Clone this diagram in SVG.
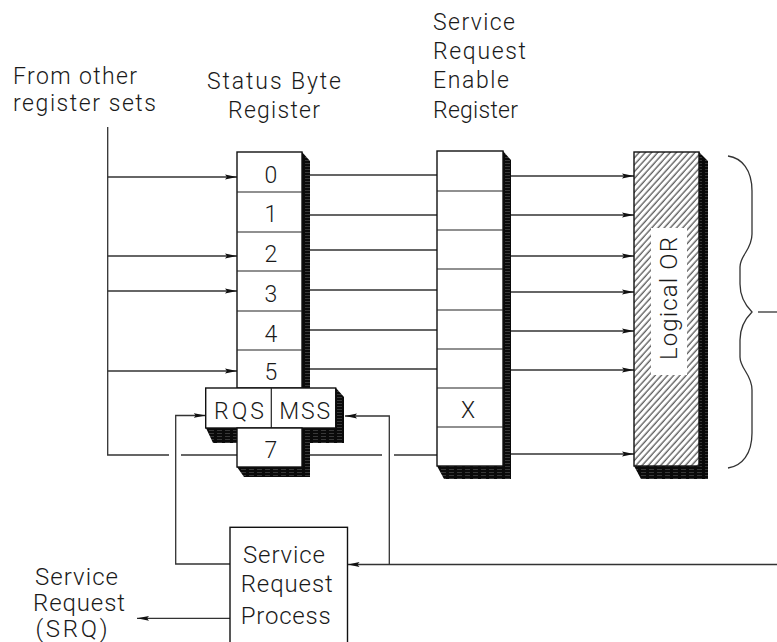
<svg xmlns="http://www.w3.org/2000/svg" width="777" height="642" viewBox="0 0 777 642">
<style>
text{font-family:Roboto,"Liberation Sans",Arial,sans-serif;font-weight:300;fill:#1a1a1a;font-size:23px}
.big{font-size:24px}
.box{fill:#fff;stroke:#111;stroke-width:1.4}
.div{stroke:#222;stroke-width:1.2;fill:none}
.sh{fill:url(#shade);stroke:none}
.ln{stroke:#333;stroke-width:1.3;fill:none}
.ar{stroke:#333;stroke-width:1.3;fill:none;marker-end:url(#ah)}
</style>
<defs>
<marker id="ah" viewBox="0 0 12 6" refX="12" refY="3" markerWidth="12" markerHeight="6" markerUnits="userSpaceOnUse" orient="auto">
<path d="M0,0.6 L12,3 L0,5.4 L2,3 Z" fill="#111"/>
</marker>
<pattern id="shade" width="8" height="3" patternUnits="userSpaceOnUse">
<rect width="8" height="3" fill="#0a0a0a"/>
<line x1="1" y1="1.5" x2="6" y2="1.5" stroke="#666" stroke-width="0.5"/>
</pattern>
<pattern id="hatch" width="4.6" height="10" patternUnits="userSpaceOnUse" patternTransform="rotate(42)">
<rect width="4.6" height="10" fill="#fff"/>
<line x1="2" y1="0" x2="2" y2="10" stroke="#222" stroke-width="1"/>
</pattern>
</defs>

<g id="labels">
<text x="13" y="84" textLength="124" lengthAdjust="spacing">From other</text>
<text x="13" y="111" textLength="143" lengthAdjust="spacing">register sets</text>
<text x="207" y="89" textLength="134" lengthAdjust="spacing">Status Byte</text>
<text x="228" y="118" textLength="92" lengthAdjust="spacing">Register</text>
<text x="433" y="30" textLength="82" lengthAdjust="spacing">Service</text>
<text x="433" y="59" textLength="93" lengthAdjust="spacing">Request</text>
<text x="433" y="88" textLength="76" lengthAdjust="spacing">Enable</text>
<text x="433" y="117.5" textLength="85" lengthAdjust="spacing">Register</text>
<text class="big" x="35" y="585" textLength="83" lengthAdjust="spacing">Service</text>
<text class="big" x="33" y="611" textLength="92" lengthAdjust="spacing">Request</text>
<text class="big" x="35.5" y="637" textLength="72" lengthAdjust="spacing">(SRQ)</text>
</g>

<g id="connectors">
<path class="ln" d="M107.7,127 V455 H169"/>
<path class="ln" d="M181,455 H237"/>
<path class="ar" d="M107.7,177 H237"/>
<path class="ar" d="M107.7,256 H237"/>
<path class="ar" d="M107.7,291 H237"/>
<path class="ar" d="M107.7,371 H237"/>
<path class="ln" d="M310,175 H437 M310,215 H437 M310,250 H437 M310,290 H437 M310,330 H437 M310,369 H437"/>
<path class="ln" d="M310,455 H382 M394,455 H437"/>
<path class="ar" d="M511,176 H634"/>
<path class="ar" d="M511,215 H634"/>
<path class="ar" d="M511,256 H634"/>
<path class="ar" d="M511,292 H634"/>
<path class="ar" d="M511,331 H634"/>
<path class="ar" d="M511,370 H634"/>
<path class="ar" d="M511,454 H634"/>
<path class="ln" d="M728,156 C742,158 752,170 752,191 L752,234 C752,250 740,255 740,267 L740,284 C740,298 746,306 752,312 C746,318 740,326 740,340 L740,357 C740,369 752,374 752,390 L752,433 C752,454 742,466 728,468"/>
<path class="ln" d="M758,312 H777"/>
<path class="ar" d="M777,564.5 H347.5"/>
<path class="ar" d="M389.3,564.5 V416 H345"/>
<path class="ar" d="M230,564 H175.7 V415.5 H205.7"/>
<path class="ar" d="M230,618.3 H137"/>
</g>

<g id="status-byte-register">
<polygon class="sh" points="302,152 310,161 310,388 302,388"/>
<rect class="box" x="237" y="152" width="65" height="236"/>
<path class="div" d="M237,192 H302 M237,232 H302 M237,271 H302 M237,311 H302 M237,350 H302"/>
<text x="271" y="183" text-anchor="middle">0</text>
<text x="271" y="222" text-anchor="middle">1</text>
<text x="271" y="262" text-anchor="middle">2</text>
<text x="271" y="302" text-anchor="middle">3</text>
<text x="271" y="342" text-anchor="middle">4</text>
<text x="271" y="380" text-anchor="middle">5</text>
<polygon class="sh" points="336,388 344,397 344,443 302,443 302,428 336,428"/>
<polygon class="sh" points="206,428 237,428 237,443 213,443"/>
<polygon class="sh" points="302,428 310,428 310,477 244,477 237,467 302,467"/>
<rect class="box" x="205.7" y="388" width="130" height="40"/>
<path class="div" d="M271.3,388 V428"/>
<text x="239" y="418.5" text-anchor="middle" textLength="50" lengthAdjust="spacing">RQS</text>
<text x="304.7" y="418.5" text-anchor="middle" textLength="51" lengthAdjust="spacing">MSS</text>
<rect class="box" x="237" y="428" width="65" height="39"/>
<text x="271" y="458" text-anchor="middle">7</text>
</g>

<g id="service-request-enable-register">
<polygon class="sh" points="503,151 511,160 511,479 444,479 437,466 503,466"/>
<rect class="box" x="437" y="151" width="66" height="315"/>
<path class="div" d="M437,191 H503 M437,230 H503 M437,269 H503 M437,310 H503 M437,349 H503 M437,388 H503 M437,427 H503"/>
<text x="468" y="418" text-anchor="middle">X</text>
</g>

<g id="logical-or">
<polygon class="sh" points="699,152 708,161 708,479 641,479 634,466 699,466"/>
<rect x="634" y="152" width="65" height="314" fill="url(#hatch)" stroke="#111" stroke-width="1.4"/>
<rect x="651" y="228" width="36" height="147" fill="#fff"/>
<text class="big" transform="translate(677,298.5) rotate(-90)" text-anchor="middle" textLength="123" lengthAdjust="spacing">Logical OR</text>
</g>

<g id="service-request-process">
<rect class="box" x="230" y="527.3" width="117.5" height="130"/>
<text class="big" x="243" y="563" textLength="82" lengthAdjust="spacing">Service</text>
<text class="big" x="240.7" y="591.7" textLength="92" lengthAdjust="spacing">Request</text>
<text class="big" x="240.7" y="623.5" textLength="90" lengthAdjust="spacing">Process</text>
</g>
</svg>
